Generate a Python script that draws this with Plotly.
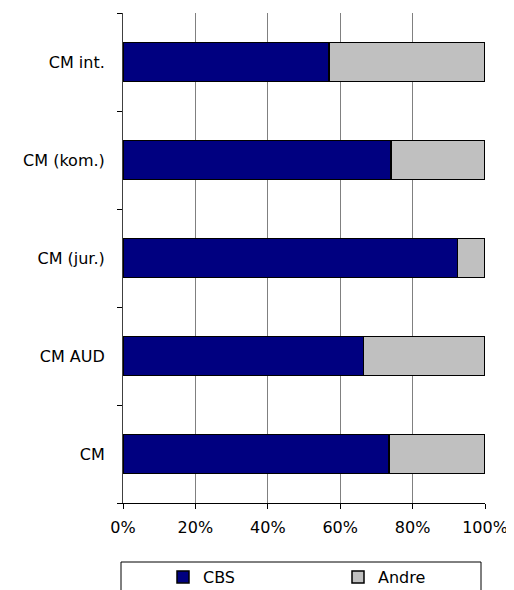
import plotly.graph_objects as go

categories = ["CM", "CM AUD", "CM (jur.)", "CM (kom.)", "CM int."]
cbs = [73.5, 66.4, 92.4, 74.0, 56.9]
andre = [26.5, 33.6, 7.6, 26.0, 43.1]
x_ticks = [0, 20, 40, 60, 80, 100]
x_tick_labels = ["0%", "20%", "40%", "60%", "80%", "100%"]

FONT = "DejaVu Sans, Liberation Sans, Arial, sans-serif"

fig = go.Figure()
fig.add_trace(go.Bar(
    y=categories, x=cbs, orientation="h", name="CBS",
    marker=dict(color="#000080", line=dict(color="black", width=1.5)),
))
fig.add_trace(go.Bar(
    y=categories, x=andre, orientation="h", name="Andre",
    marker=dict(color="#C0C0C0", line=dict(color="black", width=1.5)),
))

# page body has an 8px margin; work in screen pixels and convert
OFF = 8
W, H = 514 - OFF, 590 - OFF
PL, PR, PT, PB = 123, 485, 13, 503  # plot area in screen pixels
L = PL - OFF
R = W - (PR - OFF)
T = PT - OFF
B = H - (PB - OFF)
pw = W - L - R
ph = H - T - B

def px_x(p):
    return (p - OFF - L) / pw

def px_y(p):
    return (H - B - (p - OFF)) / ph

fig.update_layout(
    width=W, height=H,
    margin=dict(l=L, r=R, t=T, b=B, autoexpand=False),
    barmode="stack",
    bargap=0.6,
    plot_bgcolor="white",
    paper_bgcolor="white",
    font=dict(family=FONT, size=16, color="black"),
    showlegend=True,
    legend=dict(
        orientation="h",
        traceorder="normal",
        x=px_x(163), xanchor="left",
        y=px_y(560), yanchor="top",
        entrywidth=130, entrywidthmode="pixels",
        bgcolor="rgba(0,0,0,0)",
        borderwidth=0,
        font=dict(family=FONT, size=16, color="black"),
    ),
    xaxis=dict(
        range=[0, 100],
        tickvals=x_ticks,
        ticktext=x_tick_labels,
        showgrid=True, gridcolor="#808080", gridwidth=1,
        zeroline=False,
        showline=True, linecolor="black", linewidth=1,
        ticks="outside", ticklen=5, tickcolor="black",
        ticklabelstandoff=5,
        fixedrange=True,
    ),
    yaxis=dict(
        type="category",
        categoryorder="array", categoryarray=categories,
        showgrid=False,
        zeroline=False,
        showline=True, linecolor="#404040", linewidth=1,
        ticks="outside", ticklen=5, tickcolor="black",
        tickson="boundaries",
        ticklabelstandoff=14,
        fixedrange=True,
    ),
    shapes=[
        dict(type="rect", xref="paper", yref="paper",
             x0=px_x(121), x1=px_x(481), y0=px_y(562), y1=px_y(620),
             line=dict(color="black", width=1), fillcolor="rgba(0,0,0,0)",
             layer="above"),
    ],
)

fig.write_html("out.html")
